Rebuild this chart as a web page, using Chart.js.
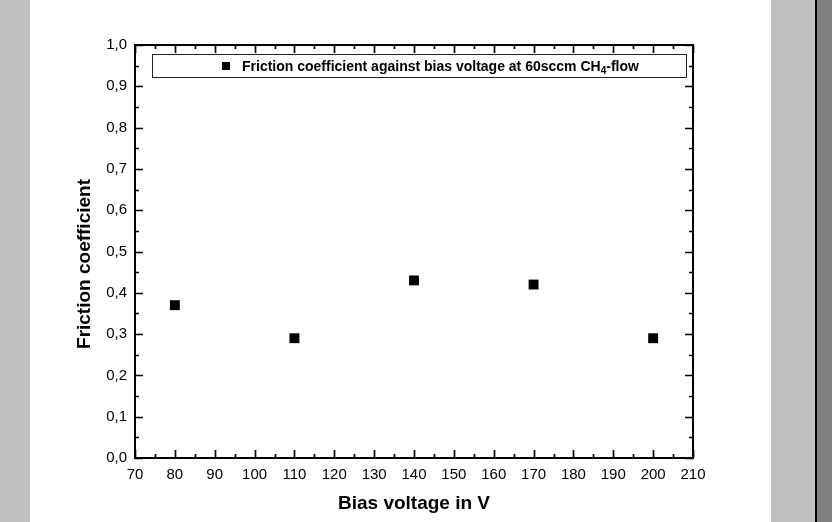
<!DOCTYPE html>
<html>
<head>
<meta charset="utf-8">
<script src="https://cdn.jsdelivr.net/npm/chart.js@4"></script>
<style>
  html, body { margin: 0; padding: 0; background: #fff; }
  #wrap { width: 832px; height: 522px; }
</style>
</head>
<body>
<div id="wrap"><canvas id="frictionChart" width="832" height="522"></canvas></div>
<script>
// data
const biasVoltage = [80, 110, 140, 170, 200];
const frictionCoeff = [0.37, 0.29, 0.43, 0.42, 0.29];
const xTicks = [70, 80, 90, 100, 110, 120, 130, 140, 150, 160, 170, 180, 190, 200, 210];
const yTicks = [0.0, 0.1, 0.2, 0.3, 0.4, 0.5, 0.6, 0.7, 0.8, 0.9, 1.0];
const legendText = 'Friction coefficient against bias voltage at 60sccm CH';
const yTitle = 'Friction coefficient';

const FONT = "'Liberation Sans', Arial, Helvetica, sans-serif";

// page background: grey margins like the viewer screenshot
const pageBg = {
  id: 'pageBg',
  beforeDraw(chart) {
    const c = chart.ctx;
    c.save();
    c.fillStyle = '#ffffff';
    c.fillRect(0, 0, 832, 522);
    c.fillStyle = '#c0c0c0';
    c.fillRect(0, 0, 30, 522);
    c.fillRect(771, 0, 45, 522);
    c.fillStyle = '#000';
    c.fillRect(815, 0, 2, 522);
    c.fillStyle = '#808080';
    c.fillRect(817, 0, 15, 522);
    c.restore();
  }
};

// inward ticks on all four sides + frame + legend box
const frame = {
  id: 'frame',
  afterDatasetsDraw(chart) {
    const c = chart.ctx;
    const a = chart.chartArea;
    const xs = chart.scales.x, ys = chart.scales.y;
    c.save();
    c.strokeStyle = '#000';
    c.lineWidth = 1.7;
    xs.ticks.forEach(t => {
      const px = Math.round(xs.getPixelForValue(t.value)) + 0.5;
      const len = (Math.round(t.value) % 10 === 0) ? 8 : 4;
      c.beginPath();
      c.moveTo(px, a.bottom); c.lineTo(px, a.bottom - len);
      c.moveTo(px, a.top); c.lineTo(px, a.top + len);
      c.stroke();
    });
    ys.ticks.forEach(t => {
      const py = Math.round(ys.getPixelForValue(t.value)) + 0.5;
      const major = Math.abs(Math.round(t.value * 20)) % 2 === 0;
      const len = major ? 8 : 4;
      c.beginPath();
      c.moveTo(a.left, py); c.lineTo(a.left + len, py);
      c.moveTo(a.right, py); c.lineTo(a.right - len, py);
      c.stroke();
    });
    c.lineWidth = 2;
    c.strokeRect(a.left, a.top, a.right - a.left, a.bottom - a.top);

    // legend
    const lx = 152, ly = 54, lw = 534, lh = 23;
    c.lineWidth = 1;
    c.strokeStyle = '#222';
    c.strokeRect(lx + 0.5, ly + 0.5, lw, lh);
    c.fillStyle = '#000';
    c.fillRect(222, 62, 8, 8);
    c.font = 'bold 14px ' + FONT;
    c.textBaseline = 'alphabetic';
    c.textAlign = 'left';
    const tx = 242, ty = 71;
    c.fillText(legendText, tx, ty);
    let w = c.measureText(legendText).width;
    c.font = 'bold 10px ' + FONT;
    c.fillText('4', tx + w, ty + 3);
    w += c.measureText('4').width;
    c.font = 'bold 14px ' + FONT;
    c.fillText('-flow', tx + w, ty);

    // y axis title (sits a bit below the axis middle in the original)
    c.translate(85, 264);
    c.rotate(-Math.PI / 2);
    c.font = 'bold 19px ' + FONT;
    c.textAlign = 'center';
    c.textBaseline = 'middle';
    c.fillText(yTitle, 0, 0);
    c.restore();
  }
};

const ctx = document.getElementById('frictionChart').getContext('2d');
new Chart(ctx, {
  type: 'scatter',
  data: {
    datasets: [{
      label: 'Friction coefficient',
      data: biasVoltage.map((v, i) => ({ x: v, y: frictionCoeff[i] })),
      backgroundColor: '#000',
      borderColor: '#000',
      pointStyle: 'rect',
      pointRadius: 7,
      pointHoverRadius: 7,
      borderWidth: 0
    }]
  },
  options: {
    responsive: false,
    animation: false,
    devicePixelRatio: 1,
    layout: { padding: { left: 0, right: 139, top: 45, bottom: 0 } },
    plugins: {
      legend: { display: false },
      tooltip: { enabled: false }
    },
    scales: {
      x: {
        type: 'linear',
        min: xTicks[0],
        max: xTicks[xTicks.length - 1],
        afterFit: s => { s.height = 64; },
        border: { display: false },
        grid: { display: false, drawTicks: false },
        ticks: {
          stepSize: 5,
          padding: 8,
          color: '#000',
          font: { family: FONT, size: 15 },
          maxRotation: 0,
          autoSkip: false,
          callback: v => xTicks.includes(v) ? String(v) : ''
        },
        title: {
          display: true,
          text: 'Bias voltage in V',
          color: '#000',
          font: { family: FONT, size: 19, weight: 'bold' },
          padding: { top: 0, bottom: 7 }
        }
      },
      y: {
        type: 'linear',
        min: yTicks[0],
        max: yTicks[yTicks.length - 1],
        afterFit: s => { s.width = 135; },
        border: { display: false },
        grid: { display: false, drawTicks: false },
        ticks: {
          stepSize: 0.05,
          padding: 8,
          color: '#000',
          font: { family: FONT, size: 15 },
          autoSkip: false,
          callback: v => {
            const r = Math.round(v * 100) / 100;
            return yTicks.some(t => Math.abs(t - r) < 1e-6) ? r.toFixed(1).replace('.', ',') : '';
          }
        },
        title: { display: false }
      }
    }
  },
  plugins: [pageBg, frame]
});
</script>
</body>
</html>
